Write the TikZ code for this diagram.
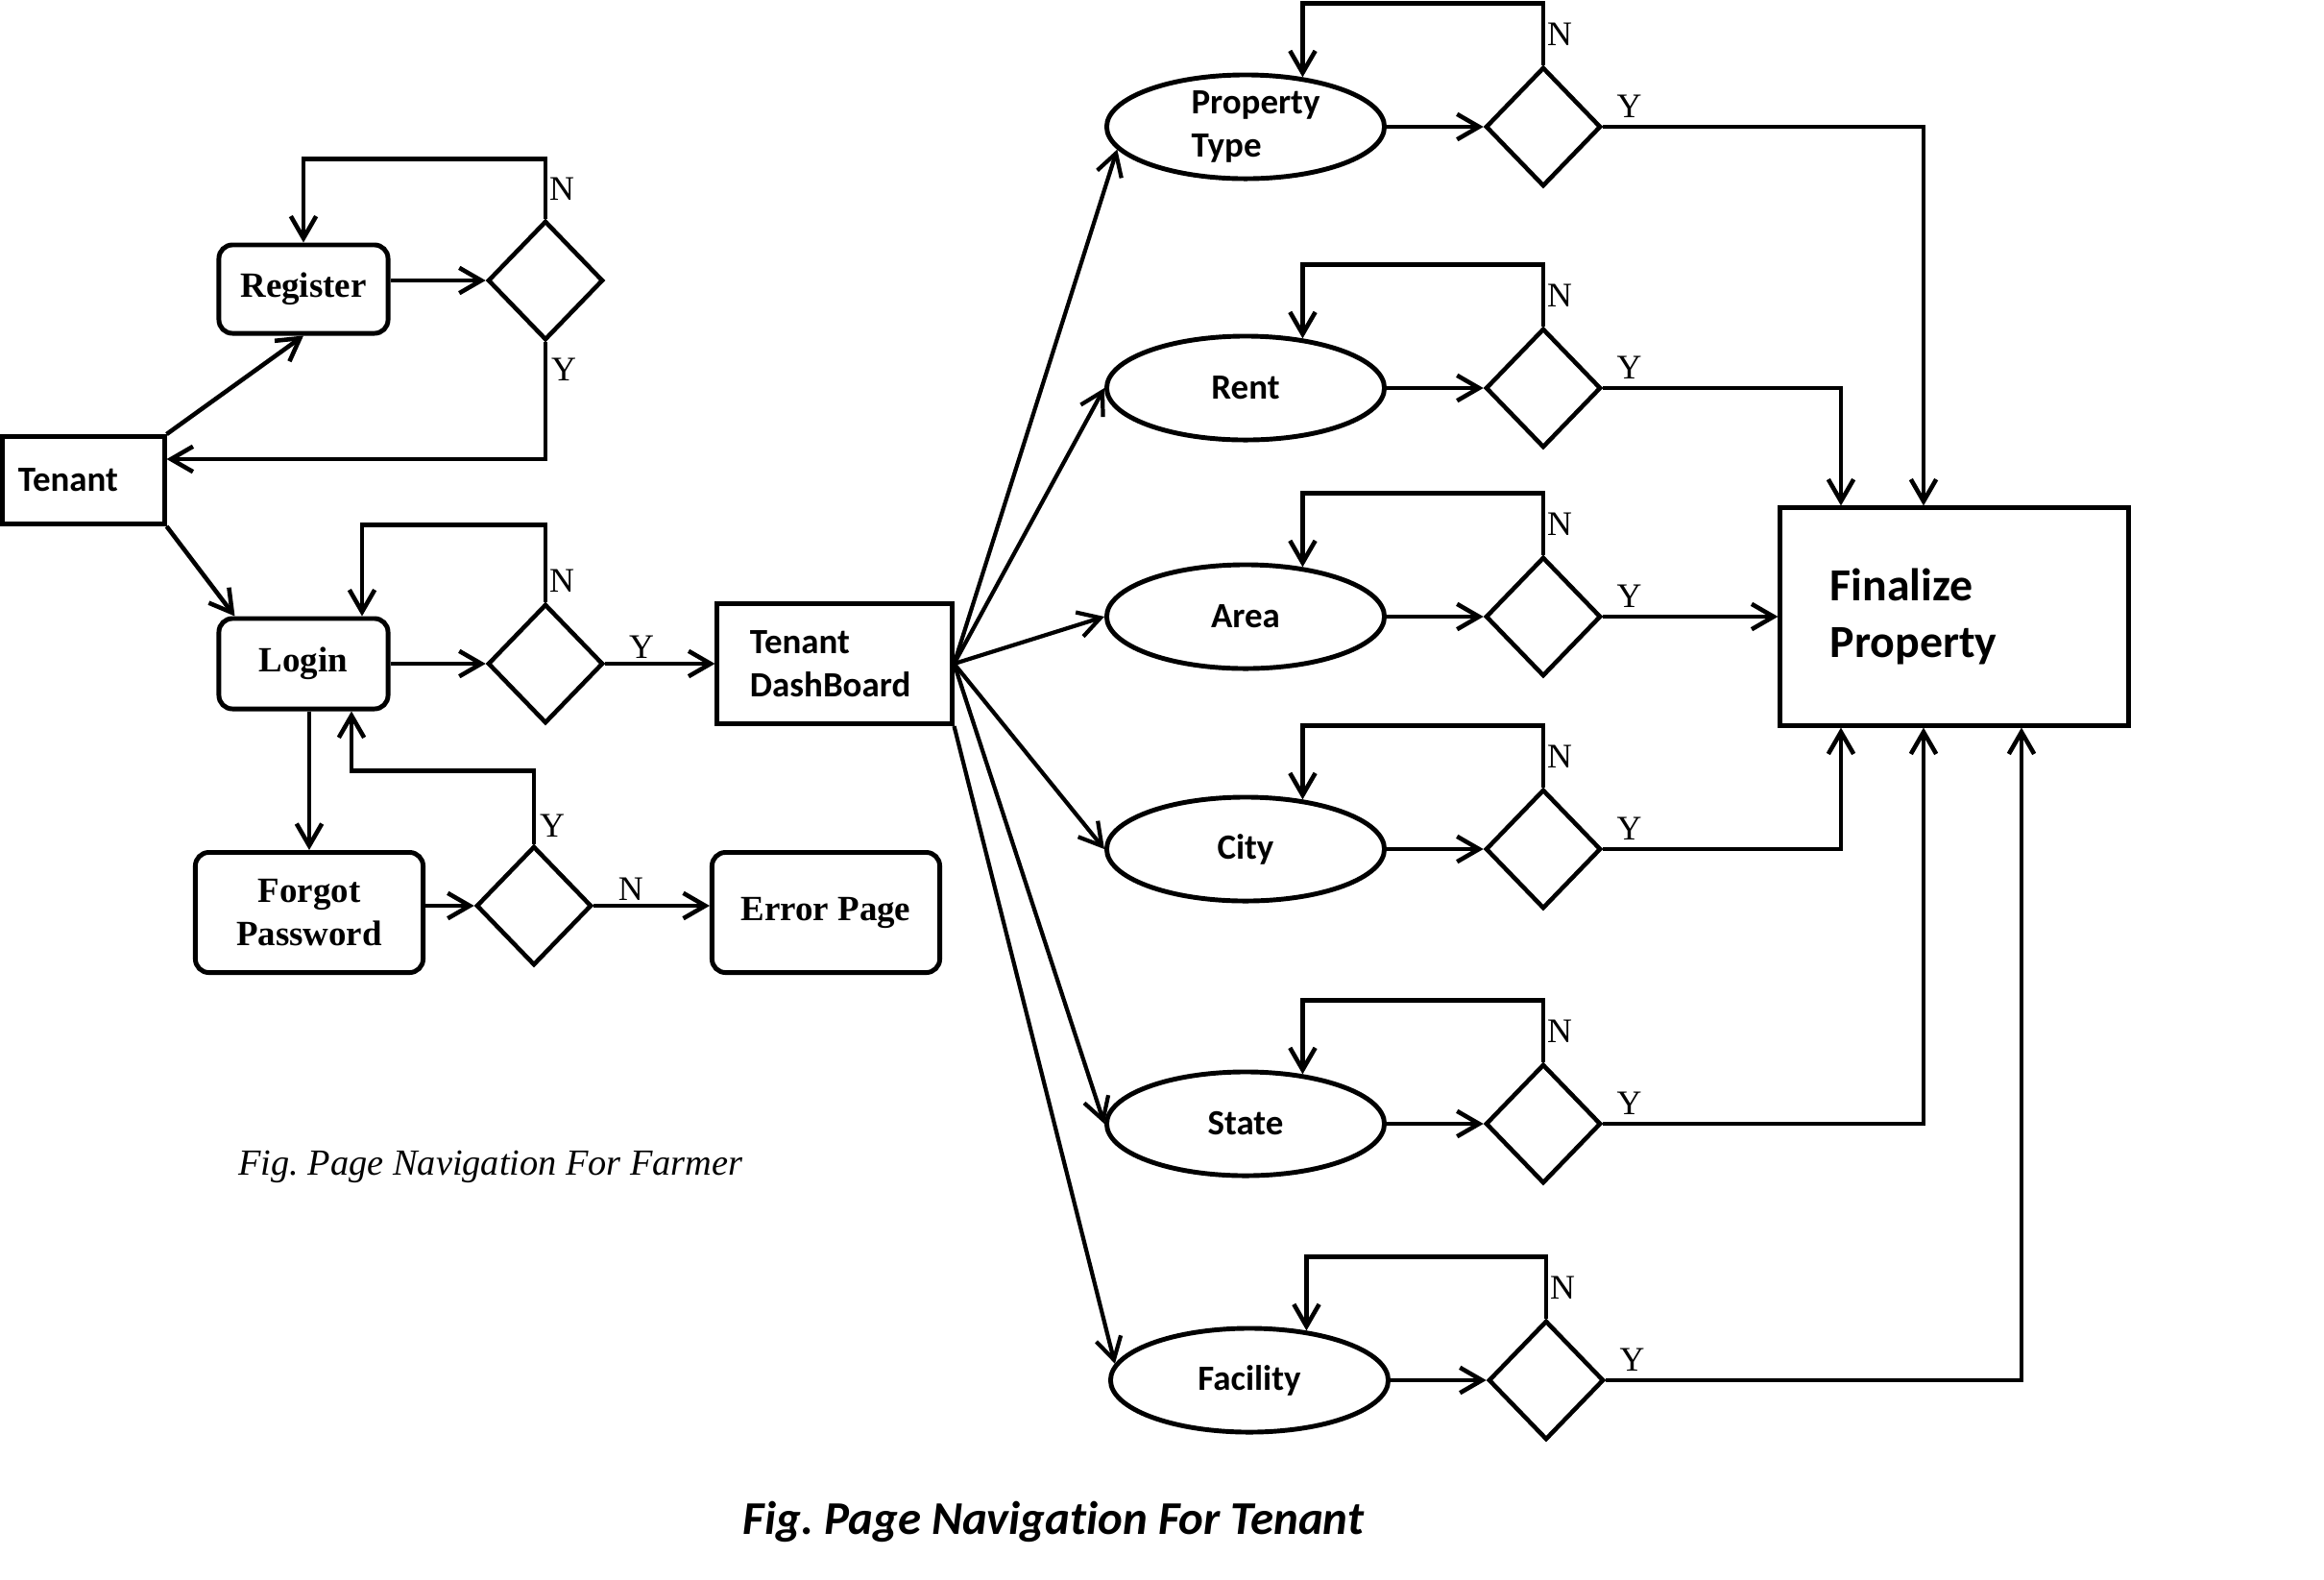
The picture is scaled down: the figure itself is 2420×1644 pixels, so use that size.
\documentclass[tikz,border=0pt]{standalone}
\usepackage{fontspec}
\setmainfont{Liberation Serif}
\newfontfamily\calfont{Carlito}[Ligatures=NoCommon]
\usepackage{tikz}
\usetikzlibrary{shapes.geometric, arrows.meta, calc}

\begin{document}
\begin{tikzpicture}[
  x=0.01cm, y=-0.01cm,
  arr/.style={-{Straight Barb[length=6.5pt,width=7.5pt]}, line width=1.3pt},
  fan/.style={-{Straight Barb[length=6.5pt,width=7.5pt]}, line width=1.2pt},
  page/.style={rectangle, rounded corners=4pt, draw, line width=1.4pt, align=center, inner sep=0pt, font=\bfseries\fontsize{10.5}{12.8}\selectfont},
  board/.style={rectangle, draw, line width=1.4pt, align=left, font=\calfont\bfseries\fontsize{10.5}{12.6}\selectfont},
  choice/.style={diamond, draw, line width=1.3pt, minimum width=1.2cm, minimum height=1.24cm, inner sep=0pt},
  option/.style={ellipse, draw, line width=1.4pt, minimum width=2.89cm, minimum height=1.08cm, inner sep=0pt, align=left, font=\calfont\bfseries\fontsize{10.5}{12.6}\selectfont},
  yn/.style={inner sep=1pt, font=\fontsize{10.2}{12}\selectfont},
]
  \useasboundingbox (0,0) rectangle (2420,1644);

  % farmer side
  \node[board, text width=1.36cm, inner xsep=0.16cm, minimum height=0.91cm] (Tenant) at (87,500) {Tenant};
  \node[page, minimum width=1.76cm, minimum height=0.92cm] (Register) at (316,301) {Register};
  \node[choice] (D1) at (568,292) {};
  \node[page, minimum width=1.76cm, minimum height=0.94cm] (Login) at (316,691) {Login};
  \node[choice] (D2) at (568,691) {};
  \node[board, text width=1.76cm, inner xsep=0.34cm, minimum height=1.25cm] (TD) at (869,691) {Tenant\\DashBoard};
  \node[page, minimum width=2.37cm, minimum height=1.25cm] (Forgot) at (322,950) {Forgot\\Password};
  \node[choice] (D3) at (556,943) {};
  \node[page, minimum width=2.37cm, minimum height=1.25cm] (Error) at (860,950) {Error Page};

  \draw[arr] (Tenant.north east) -- (Register.south);
  \draw[arr] (Tenant.south east) -- ($(Login.north west)+(19,0)$);
  \draw[arr] (Register.east |- D1.west) -- (D1.west);
  \draw[arr] (D1.north) -- ++(0,-62) -| (Register.north);
  \draw[arr] (D1.south) |- ($(Tenant.east)+(0,-22)$);
  \node[yn, anchor=west] at ($(D1.north)+(0,-31)$) {N};
  \node[yn, anchor=north west] at ($(D1.south)+(2,12)$) {Y};

  \draw[arr] (Login.east) -- (D2.west);
  \draw[arr] (D2.north) -- ++(0,-80) -| ($(Login.north)+(61,0)$);
  \draw[arr] (D2.east) -- node[yn, above, pos=.33] {Y} (TD.west);
  \node[yn, anchor=west] at ($(D2.north)+(0,-22)$) {N};

  \draw[arr] (Login.south -| Forgot.north) -- (Forgot.north);
  \draw[arr] (Forgot.east |- D3.west) -- (D3.west);
  \draw[arr] (D3.north) -- ++(0,-76) -| ($(Login.south)+(50,0)$);
  \draw[arr] (D3.east) -- node[yn, above, pos=.32] {N} (D3.east -| Error.west);
  \node[yn, anchor=south west] at ($(D3.north)+(2,-3)$) {Y};

  \node[font=\itshape\fontsize{10.9}{13}\selectfont] (capFarmer) at (511,1215) {Fig.\ Page Navigation For Farmer};

  % tenant side
  \node[option] (PT) at (1297,132) {\hspace*{6pt}Property\\\hspace*{6pt}Type};
  \node[option] (Rent) at (1297,404) {Rent};
  \node[option] (Area) at (1297,642) {Area};
  \node[option] (City) at (1297,884) {City};
  \node[option] (State) at (1297,1170) {State};
  \node[option] (Facility) at (1301,1437) {Facility};

  \node[choice] (dPT) at (1607,132) {};
  \node[choice] (dRent) at (1607,404) {};
  \node[choice] (dArea) at (1607,642) {};
  \node[choice] (dCity) at (1607,884) {};
  \node[choice] (dState) at (1607,1170) {};
  \node[choice] (dFac) at (1610,1437) {};

  \node[board, text width=2.58cm, inner xsep=0.52cm, minimum height=2.26cm, font=\calfont\bfseries\fontsize{13.6}{17}\selectfont] (Fin) at (2035,642) {Finalize\\Property};

  \draw[fan] (TD.east) -- (PT.190);
  \draw[fan] (TD.east) -- (Rent.west);
  \draw[fan] (TD.east) -- (Area.west);
  \draw[fan] (TD.east) -- (City.west);
  \draw[fan] (TD.east) -- (State.west);
  \draw[fan] (TD.south east) -- (Facility.173);

  \draw[arr] (PT.east) -- (dPT.west);
  \draw[arr] (dPT.north) -- ++(0,-64) -| (PT.41);
  \draw[arr] (dPT.east) -| ($(Fin.north)+(-32,0)$);
  \node[yn, anchor=west] at ($(dPT.north)+(0,-32)$) {N};
  \node[yn, anchor=south west] at ($(dPT.east)+(10,-5)$) {Y};

  \draw[arr] (Rent.east) -- (dRent.west);
  \draw[arr] (dRent.north) -- ++(0,-64) -| (Rent.41);
  \draw[arr] (dRent.east) -| ($(Fin.north)+(-118,0)$);
  \node[yn, anchor=west] at ($(dRent.north)+(0,-32)$) {N};
  \node[yn, anchor=south west] at ($(dRent.east)+(10,-5)$) {Y};

  \draw[arr] (Area.east) -- (dArea.west);
  \draw[arr] (dArea.north) -- ++(0,-64) -| (Area.41);
  \draw[arr] (dArea.east) -- (Fin.west);
  \node[yn, anchor=west] at ($(dArea.north)+(0,-32)$) {N};
  \node[yn, anchor=south west] at ($(dArea.east)+(10,-5)$) {Y};

  \draw[arr] (City.east) -- (dCity.west);
  \draw[arr] (dCity.north) -- ++(0,-64) -| (City.41);
  \draw[arr] (dCity.east) -| ($(Fin.south)+(-118,0)$);
  \node[yn, anchor=west] at ($(dCity.north)+(0,-32)$) {N};
  \node[yn, anchor=south west] at ($(dCity.east)+(10,-5)$) {Y};

  \draw[arr] (State.east) -- (dState.west);
  \draw[arr] (dState.north) -- ++(0,-64) -| (State.41);
  \draw[arr] (dState.east) -| ($(Fin.south)+(-32,0)$);
  \node[yn, anchor=west] at ($(dState.north)+(0,-32)$) {N};
  \node[yn, anchor=south west] at ($(dState.east)+(10,-5)$) {Y};

  \draw[arr] (Facility.east) -- (dFac.west);
  \draw[arr] (dFac.north) -- ++(0,-64) -| (Facility.41);
  \draw[arr] (dFac.east) -| ($(Fin.south)+(70,0)$);
  \node[yn, anchor=west] at ($(dFac.north)+(0,-32)$) {N};
  \node[yn, anchor=south west] at ($(dFac.east)+(10,-5)$) {Y};

  \node[font=\calfont\bfseries\itshape\fontsize{13.9}{16}\selectfont] (capTenant) at (1097,1584) {Fig.\ Page Navigation For Tenant};
\end{tikzpicture}
\end{document}
